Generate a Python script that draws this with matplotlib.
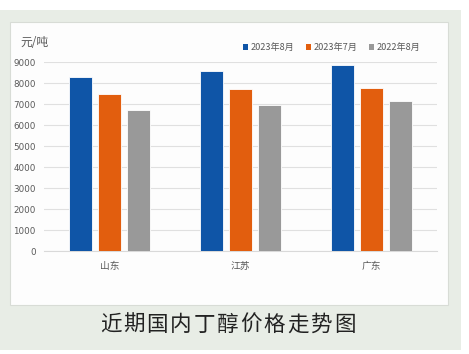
import matplotlib
matplotlib.use("Agg")
import matplotlib.pyplot as plt
from matplotlib.patches import Rectangle, Patch
import numpy as np

plt.rcParams['font.family'] = ['Noto Sans CJK SC', 'DejaVu Sans']

categories = ["山东", "江苏", "广东"]
series_names = ["2023年8月", "2023年7月", "2022年8月"]
s_2023_08 = [8300, 8600, 8870]
s_2023_07 = [7500, 7720, 7780]
s_2022_08 = [6750, 6950, 7140]
yticks = [0, 1000, 2000, 3000, 4000, 5000, 6000, 7000, 8000, 9000]
unit_label = "元/吨"
title = "近期国内丁醇价格走势图"

colors = ["#0f55a7", "#e25e0e", "#999999"]

W, H = 469, 354
fig = plt.figure(figsize=(W / 100, H / 100), dpi=100)
fig.patch.set_facecolor("white")

def fx(px):
    return px / W

def fy(py):
    return 1 - py / H

# green background
fig.add_artist(Rectangle((0, fy(350)), fx(461), (340) / H, transform=fig.transFigure,
                         facecolor="#e8ede6", edgecolor="none", zorder=0))
# white panel
fig.add_artist(Rectangle((fx(10), fy(305)), fx(438), (305 - 22) / H, transform=fig.transFigure,
                         facecolor="#fdfdfd", edgecolor="#d8dcd6", linewidth=0.8, zorder=0.5))

ax = fig.add_axes([fx(44), fy(251.3), fx(437) - fx(44), (251.3 - 62.3) / H])
ax.set_facecolor("none")
ax.set_zorder(1)

x = np.arange(len(categories))
bw = 0.173
step = 0.219
for i, (vals, c, name) in enumerate(zip([s_2023_08, s_2023_07, s_2022_08], colors, series_names)):
    ax.bar(x + (i - 1) * step, vals, width=bw, color=c, edgecolor="white", linewidth=0.6,
           label=name, zorder=3)

ax.set_xlim(-0.5, 2.5)
ax.set_ylim(0, 9000)
ax.set_yticks(yticks)
ax.set_yticklabels([str(v) for v in yticks])
ax.set_xticks(x)
ax.set_xticklabels(categories)
ax.grid(axis="y", color="#e0e0e0", linewidth=0.8, zorder=0)
for s in ["top", "right", "left"]:
    ax.spines[s].set_visible(False)
ax.spines["bottom"].set_color("#d9d9d9")
ax.spines["bottom"].set_linewidth(0.8)
ax.tick_params(axis="y", length=0, colors="#595959", labelsize=6.3, pad=6)
ax.tick_params(axis="x", length=0, colors="#595959", labelsize=7, pad=7)
for lab in ax.get_yticklabels():
    lab.set_family(["DejaVu Sans"])

fig.text(fx(20), fy(43), unit_label, fontsize=8.5, color="#595959", va="center", ha="left")

handles = [Patch(facecolor=c, edgecolor="none") for c in colors]
leg = fig.legend(handles, series_names, loc="center left", bbox_to_anchor=(fx(238), fy(47.5)),
                 ncol=3, frameon=False, fontsize=6.6, handlelength=0.55, handleheight=0.55,
                 handletextpad=0.35, columnspacing=1.2, borderpad=0, labelcolor="#595959")

# title with letter spacing
pitch = 23.4
start = 110.5
for i, ch in enumerate(title):
    fig.text(fx(start + i * pitch), fy(325), ch, fontsize=15.5, color="#222222",
             ha="center", va="center")

fig.savefig("out.png", dpi=100, facecolor=fig.get_facecolor())
